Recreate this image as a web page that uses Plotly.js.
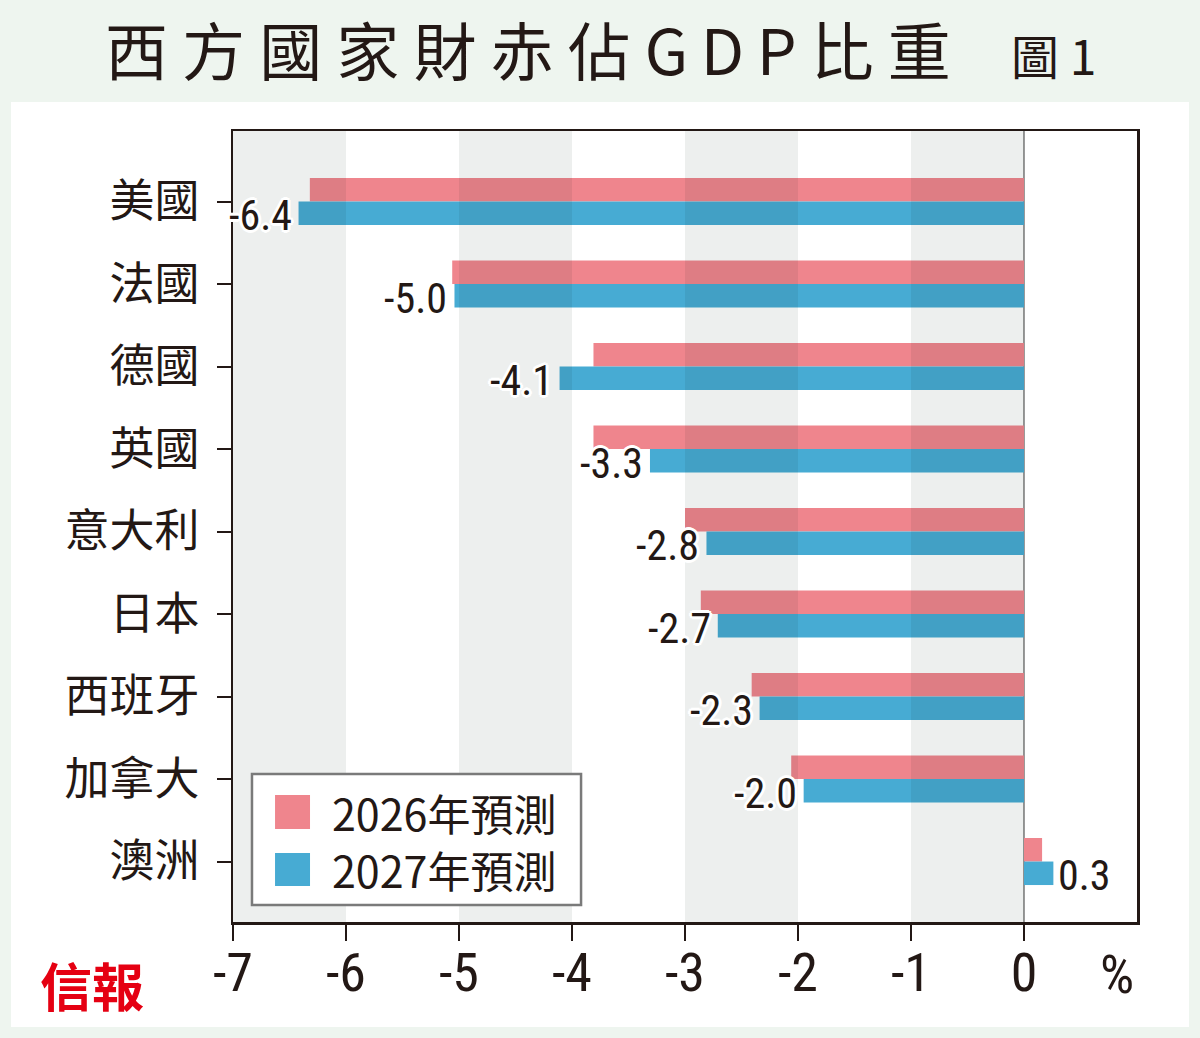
<!DOCTYPE html>
<html>
<head>
<meta charset="utf-8">
<script src="https://cdn.plot.ly/plotly-3.0.1.min.js"></script>
<style>
  html, body { margin: 0; padding: 0; background: #eef5ef; }
  #chart { width: 1200px; height: 1038px; }
</style>
</head>
<body>
<div id="chart"></div>
<script>
// ---- data ----
const categories = ['美國', '法國', '德國', '英國', '意大利', '日本', '西班牙', '加拿大', '澳洲'];
const forecast2026 = [-6.32, -5.06, -3.81, -3.81, -3.00, -2.86, -2.41, -2.06, 0.16];
const forecast2027 = [-6.42, -5.04, -4.11, -3.31, -2.81, -2.71, -2.34, -1.95, 0.26];
const labels2027 = ['-6.4', '-5.0', '-4.1', '-3.3', '-2.8', '-2.7', '-2.3', '-2.0', '0.3'];
const seriesNames = ['2026年預測', '2027年預測'];
const xTickVals = [-7, -6, -5, -4, -3, -2, -1, 0];
const xTickText = ['-7', '-6', '-5', '-4', '-3', '-2', '-1', '0'];

// ---- pick an installed condensed font for the numbers ----
function fontAvailable(name) {
  const ctx = document.createElement('canvas').getContext('2d');
  const s = '-0123456789.%mwMW';
  for (const base of ['monospace', 'serif']) {
    ctx.font = '72px ' + base;
    const w0 = ctx.measureText(s).width;
    ctx.font = '72px "' + name + '", ' + base;
    if (Math.abs(ctx.measureText(s).width - w0) > 0.5) return true;
  }
  return false;
}
const narrowCandidates = ['Liberation Sans Narrow', 'Roboto Condensed', 'DejaVu Sans Condensed',
  'Noto Sans Condensed', 'Noto Sans SemiCondensed', 'Open Sans Condensed', 'Arial Narrow'];
let narrowFound = narrowCandidates.find(fontAvailable);
const NARROW = narrowFound ? "'" + narrowFound + "', 'Liberation Sans', sans-serif" : "Roboto, 'Liberation Sans', sans-serif";

// ---- styles ----
const PINK = '#ef858d';
const BLUE = '#47abd3';
const INK = '#231815';
const CJK = "'Noto Sans CJK TC', 'Noto Sans CJK SC', sans-serif";
const HALO = '3px 0 0 #fff, -3px 0 0 #fff, 0 3px 0 #fff, 0 -3px 0 #fff, 2px 2px 0 #fff, -2px 2px 0 #fff, 2px -2px 0 #fff, -2px -2px 0 #fff';

const traces = [
  { type: 'bar', orientation: 'h', name: seriesNames[0], y: categories, x: forecast2026,
    marker: { color: PINK, line: { width: 0 } }, hoverinfo: 'x+y' },
  { type: 'bar', orientation: 'h', name: seriesNames[1], y: categories, x: forecast2027,
    marker: { color: BLUE, line: { width: 0 } }, hoverinfo: 'x+y' }
];

const shapes = [];
// white panel
shapes.push({ type: 'rect', xref: 'paper', yref: 'paper', x0: -0.2456, x1: 1.0575, y0: -0.1327, y1: 1.0367,
  fillcolor: '#ffffff', line: { width: 0 }, layer: 'below' });
// alternating shaded bands between ticks (darkening drawn above bars)
for (let i = 0; i < xTickVals.length - 1; i += 2) {
  shapes.push({ type: 'rect', xref: 'x', yref: 'paper', x0: xTickVals[i], x1: xTickVals[i + 1], y0: 0, y1: 1,
    fillcolor: 'rgba(0,26,12,0.07)', line: { width: 0 }, layer: 'above' });
}
// legend box and swatches
shapes.push({ type: 'rect', xref: 'paper', yref: 'paper', x0: 0.0210, x1: 0.3850, y0: 0.0215, y1: 0.1871,
  fillcolor: '#ffffff', line: { color: '#7a7a7a', width: 2.5 }, layer: 'above' });
shapes.push({ type: 'rect', xref: 'paper', yref: 'paper', x0: 0.0465, x1: 0.0852, y0: 0.1176, y1: 0.1606,
  fillcolor: PINK, line: { width: 0 }, layer: 'above' });
shapes.push({ type: 'rect', xref: 'paper', yref: 'paper', x0: 0.0465, x1: 0.0852, y0: 0.0455, y1: 0.0872,
  fillcolor: BLUE, line: { width: 0 }, layer: 'above' });

const annotations = [];
// value labels for 2027 bars
for (let i = 0; i < categories.length; i++) {
  const v = forecast2027[i];
  annotations.push({
    x: v, y: categories[i], xref: 'x', yref: 'y',
    text: labels2027[i], showarrow: false,
    xanchor: v < 0 ? 'right' : 'left', yanchor: 'middle',
    xshift: v < 0 ? -5 : 3, yshift: -14,
    font: { family: NARROW, size: 42, color: INK, shadow: HALO }
  });
}
// legend labels
annotations.push({ xref: 'paper', yref: 'paper', x: 0.1073, y: 0.1391, xanchor: 'left', yanchor: 'middle',
  text: seriesNames[0], showarrow: false, font: { family: CJK, size: 43, color: INK } });
annotations.push({ xref: 'paper', yref: 'paper', x: 0.1073, y: 0.0670, xanchor: 'left', yanchor: 'middle',
  text: seriesNames[1], showarrow: false, font: { family: CJK, size: 43, color: INK } });
// figure number
annotations.push({ xref: 'paper', yref: 'paper', x: 0.8580, y: 1.0973, xanchor: 'left', yanchor: 'middle',
  text: '圖 1', showarrow: false, font: { family: CJK, size: 48, color: INK } });
// unit
annotations.push({ xref: 'paper', yref: 'paper', x: 0.9779, y: -0.0670, xanchor: 'center', yanchor: 'middle',
  text: '%', showarrow: false, font: { family: NARROW, size: 54, color: INK } });
// logo
annotations.push({ xref: 'paper', yref: 'paper', x: -0.156, y: -0.0796, xanchor: 'center', yanchor: 'middle',
  text: '<b>信報</b>', showarrow: false, font: { family: CJK, size: 52, color: '#e50012' } });

const layout = {
  width: 1200, height: 1038,
  margin: { l: 233, r: 63, t: 131, b: 116, pad: 0 },
  paper_bgcolor: '#eef5ef',
  plot_bgcolor: '#ffffff',
  showlegend: false,
  barmode: 'group',
  bargap: 0.43,
  bargroupgap: 0,
  title: {
    text: '西 方 國 家 財 赤 佔 G\u2009D\u2009P 比 重',
    x: 0.0875, xanchor: 'left', xref: 'container',
    y: 0.949, yanchor: 'middle', yref: 'container',
    font: { family: CJK, size: 63, color: INK }
  },
  xaxis: {
    range: [-7, 1],
    tickvals: xTickVals, ticktext: xTickText,
    ticks: 'outside', ticklen: 16, tickwidth: 2, tickcolor: INK,
    ticklabelstandoff: -14,
    showgrid: false,
    zeroline: true, zerolinecolor: '#9a9a9a', zerolinewidth: 2.5,
    showline: true, linecolor: INK, linewidth: 2.5, mirror: true,
    tickfont: { family: NARROW, size: 54, color: INK },
    fixedrange: true
  },
  yaxis: {
    type: 'category',
    categoryorder: 'array', categoryarray: categories,
    range: [8.733, -0.855],
    ticks: 'outside', ticklen: 14, tickwidth: 2, tickcolor: INK,
    ticklabelstandoff: 8,
    showgrid: false, zeroline: false,
    showline: true, linecolor: INK, linewidth: 2.5, mirror: true,
    tickfont: { family: CJK, size: 45, color: INK },
    fixedrange: true
  },
  shapes: shapes,
  annotations: annotations
};

Plotly.newPlot('chart', traces, layout, { displayModeBar: false, staticPlot: true });
</script>
</body>
</html>
